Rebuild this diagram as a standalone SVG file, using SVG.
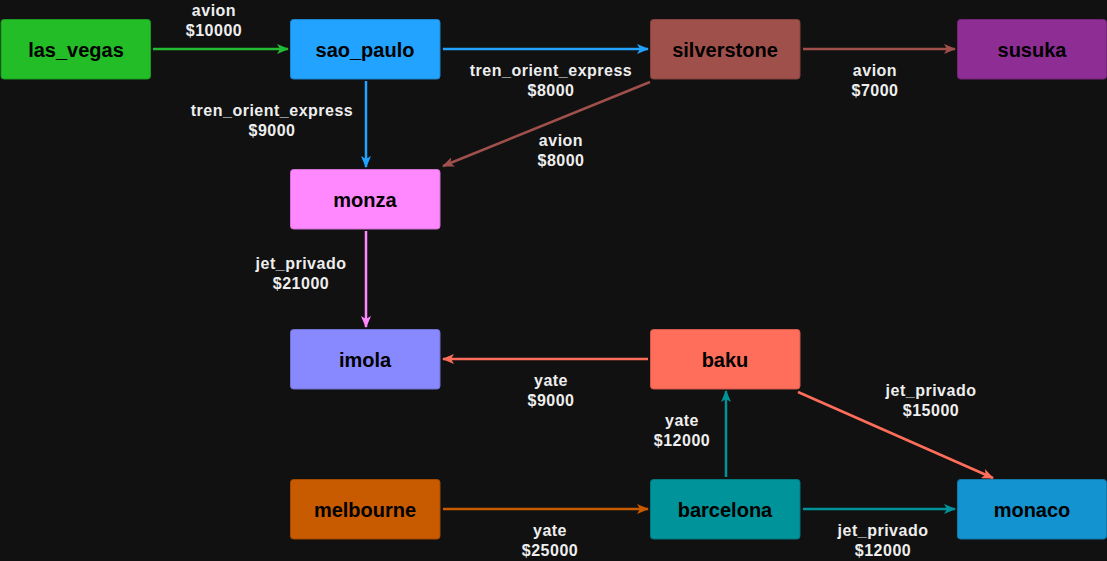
<svg xmlns="http://www.w3.org/2000/svg" width="1107" height="561" viewBox="0 0 1107 561">
<defs>
<style>
.n rect{stroke-width:1;}
.n text{font-family:"Liberation Sans",Arial,sans-serif;font-weight:bold;font-size:20px;fill:#000;text-anchor:middle;}
.e line{stroke-width:2.5;fill:none;}
.l{font-family:"Liberation Sans",Arial,sans-serif;font-weight:bold;font-size:16px;letter-spacing:0.5px;fill:#eeeeee;text-anchor:middle;}
</style>
<marker id="mg" viewBox="0 0 12 10" refX="11" refY="5" markerWidth="12" markerHeight="10" markerUnits="userSpaceOnUse" orient="auto"><path d="M0,0L12,5L0,10L3,5Z" fill="#22bb33"/></marker>
<marker id="mb" viewBox="0 0 12 10" refX="11" refY="5" markerWidth="12" markerHeight="10" markerUnits="userSpaceOnUse" orient="auto"><path d="M0,0L12,5L0,10L3,5Z" fill="#22a3ff"/></marker>
<marker id="mr" viewBox="0 0 12 10" refX="11" refY="5" markerWidth="12" markerHeight="10" markerUnits="userSpaceOnUse" orient="auto"><path d="M0,0L12,5L0,10L3,5Z" fill="#a0504b"/></marker>
<marker id="mp" viewBox="0 0 12 10" refX="11" refY="5" markerWidth="12" markerHeight="10" markerUnits="userSpaceOnUse" orient="auto"><path d="M0,0L12,5L0,10L3,5Z" fill="#ff88ff"/></marker>
<marker id="ms" viewBox="0 0 12 10" refX="11" refY="5" markerWidth="12" markerHeight="10" markerUnits="userSpaceOnUse" orient="auto"><path d="M0,0L12,5L0,10L3,5Z" fill="#ff6e5b"/></marker>
<marker id="mt" viewBox="0 0 12 10" refX="11" refY="5" markerWidth="12" markerHeight="10" markerUnits="userSpaceOnUse" orient="auto"><path d="M0,0L12,5L0,10L3,5Z" fill="#009399"/></marker>
<marker id="mo" viewBox="0 0 12 10" refX="11" refY="5" markerWidth="12" markerHeight="10" markerUnits="userSpaceOnUse" orient="auto"><path d="M0,0L12,5L0,10L3,5Z" fill="#c85a00"/></marker>
</defs>
<rect width="1107" height="561" fill="#111111"/>
<g id="connectors" class="e">
<line x1="153" y1="49" x2="288" y2="49" stroke="#22bb33" marker-end="url(#mg)"/>
<line x1="443" y1="49" x2="648" y2="49" stroke="#22a3ff" marker-end="url(#mb)"/>
<line x1="803" y1="49" x2="955" y2="49" stroke="#a0504b" marker-end="url(#mr)"/>
<line x1="366" y1="81" x2="366" y2="167" stroke="#22a3ff" marker-end="url(#mb)"/>
<line x1="650" y1="82" x2="443" y2="166" stroke="#a0504b" marker-end="url(#mr)"/>
<line x1="366" y1="231" x2="366" y2="327" stroke="#ff88ff" marker-end="url(#mp)"/>
<line x1="648" y1="359" x2="443" y2="359" stroke="#ff6e5b" marker-end="url(#ms)"/>
<line x1="726" y1="477" x2="726" y2="391" stroke="#009399" marker-end="url(#mt)"/>
<line x1="798" y1="392" x2="993" y2="478" stroke="#ff6e5b" marker-end="url(#ms)"/>
<line x1="443" y1="509" x2="648" y2="509" stroke="#c85a00" marker-end="url(#mo)"/>
<line x1="803" y1="509" x2="955" y2="509" stroke="#009399" marker-end="url(#mt)"/>
<text class="l" x="214" y="15.5">avion</text><text class="l" x="214" y="35.5">$10000</text>
<text class="l" x="551" y="75.5">tren_orient_express</text><text class="l" x="551" y="95.5">$8000</text>
<text class="l" x="875" y="75.5">avion</text><text class="l" x="875" y="95.5">$7000</text>
<text class="l" x="272" y="115.5">tren_orient_express</text><text class="l" x="272" y="135.5">$9000</text>
<text class="l" x="561" y="145.5">avion</text><text class="l" x="561" y="165.5">$8000</text>
<text class="l" x="301" y="268.5">jet_privado</text><text class="l" x="301" y="288.5">$21000</text>
<text class="l" x="551" y="385.5">yate</text><text class="l" x="551" y="405.5">$9000</text>
<text class="l" x="682" y="426">yate</text><text class="l" x="682" y="446">$12000</text>
<text class="l" x="931" y="395.5">jet_privado</text><text class="l" x="931" y="415.5">$15000</text>
<text class="l" x="550" y="535.5">yate</text><text class="l" x="550" y="555.5">$25000</text>
<text class="l" x="883" y="535.5">jet_privado</text><text class="l" x="883" y="555.5">$12000</text>
</g>
<g id="las_vegas" class="n"><rect x="1" y="19.5" width="149.5" height="59.5" rx="3" fill="#23bd27" stroke="#1a9a1e"/><text x="76" y="57">las_vegas</text></g>
<g id="sao_paulo" class="n"><rect x="290.5" y="19.5" width="149.5" height="59.5" rx="3" fill="#22a3ff" stroke="#1b86d2"/><text x="365" y="57">sao_paulo</text></g>
<g id="silverstone" class="n"><rect x="650.5" y="19.5" width="149.5" height="59.5" rx="3" fill="#a0504b" stroke="#84423e"/><text x="725" y="57">silverstone</text></g>
<g id="susuka" class="n"><rect x="957.5" y="19.5" width="149" height="59.5" rx="3" fill="#8e2d93" stroke="#742479"/><text x="1032" y="57">susuka</text></g>
<g id="monza" class="n"><rect x="290.5" y="169.5" width="149.5" height="59.5" rx="3" fill="#ff88ff" stroke="#d270d2"/><text x="365" y="207">monza</text></g>
<g id="imola" class="n"><rect x="290.5" y="329.5" width="149.5" height="59.5" rx="3" fill="#8888ff" stroke="#7070d2"/><text x="365" y="367">imola</text></g>
<g id="baku" class="n"><rect x="650.5" y="329.5" width="149.5" height="59.5" rx="3" fill="#ff6e5b" stroke="#d25a4b"/><text x="725" y="367">baku</text></g>
<g id="melbourne" class="n"><rect x="290.5" y="479.5" width="149.5" height="59.5" rx="3" fill="#c85a00" stroke="#a44a00"/><text x="365" y="517">melbourne</text></g>
<g id="barcelona" class="n"><rect x="650.5" y="479.5" width="149.5" height="59.5" rx="3" fill="#009399" stroke="#00797e"/><text x="725" y="517">barcelona</text></g>
<g id="monaco" class="n"><rect x="957.5" y="479.5" width="149" height="59.5" rx="3" fill="#1393cf" stroke="#0f79aa"/><text x="1032" y="517">monaco</text></g>
</svg>
